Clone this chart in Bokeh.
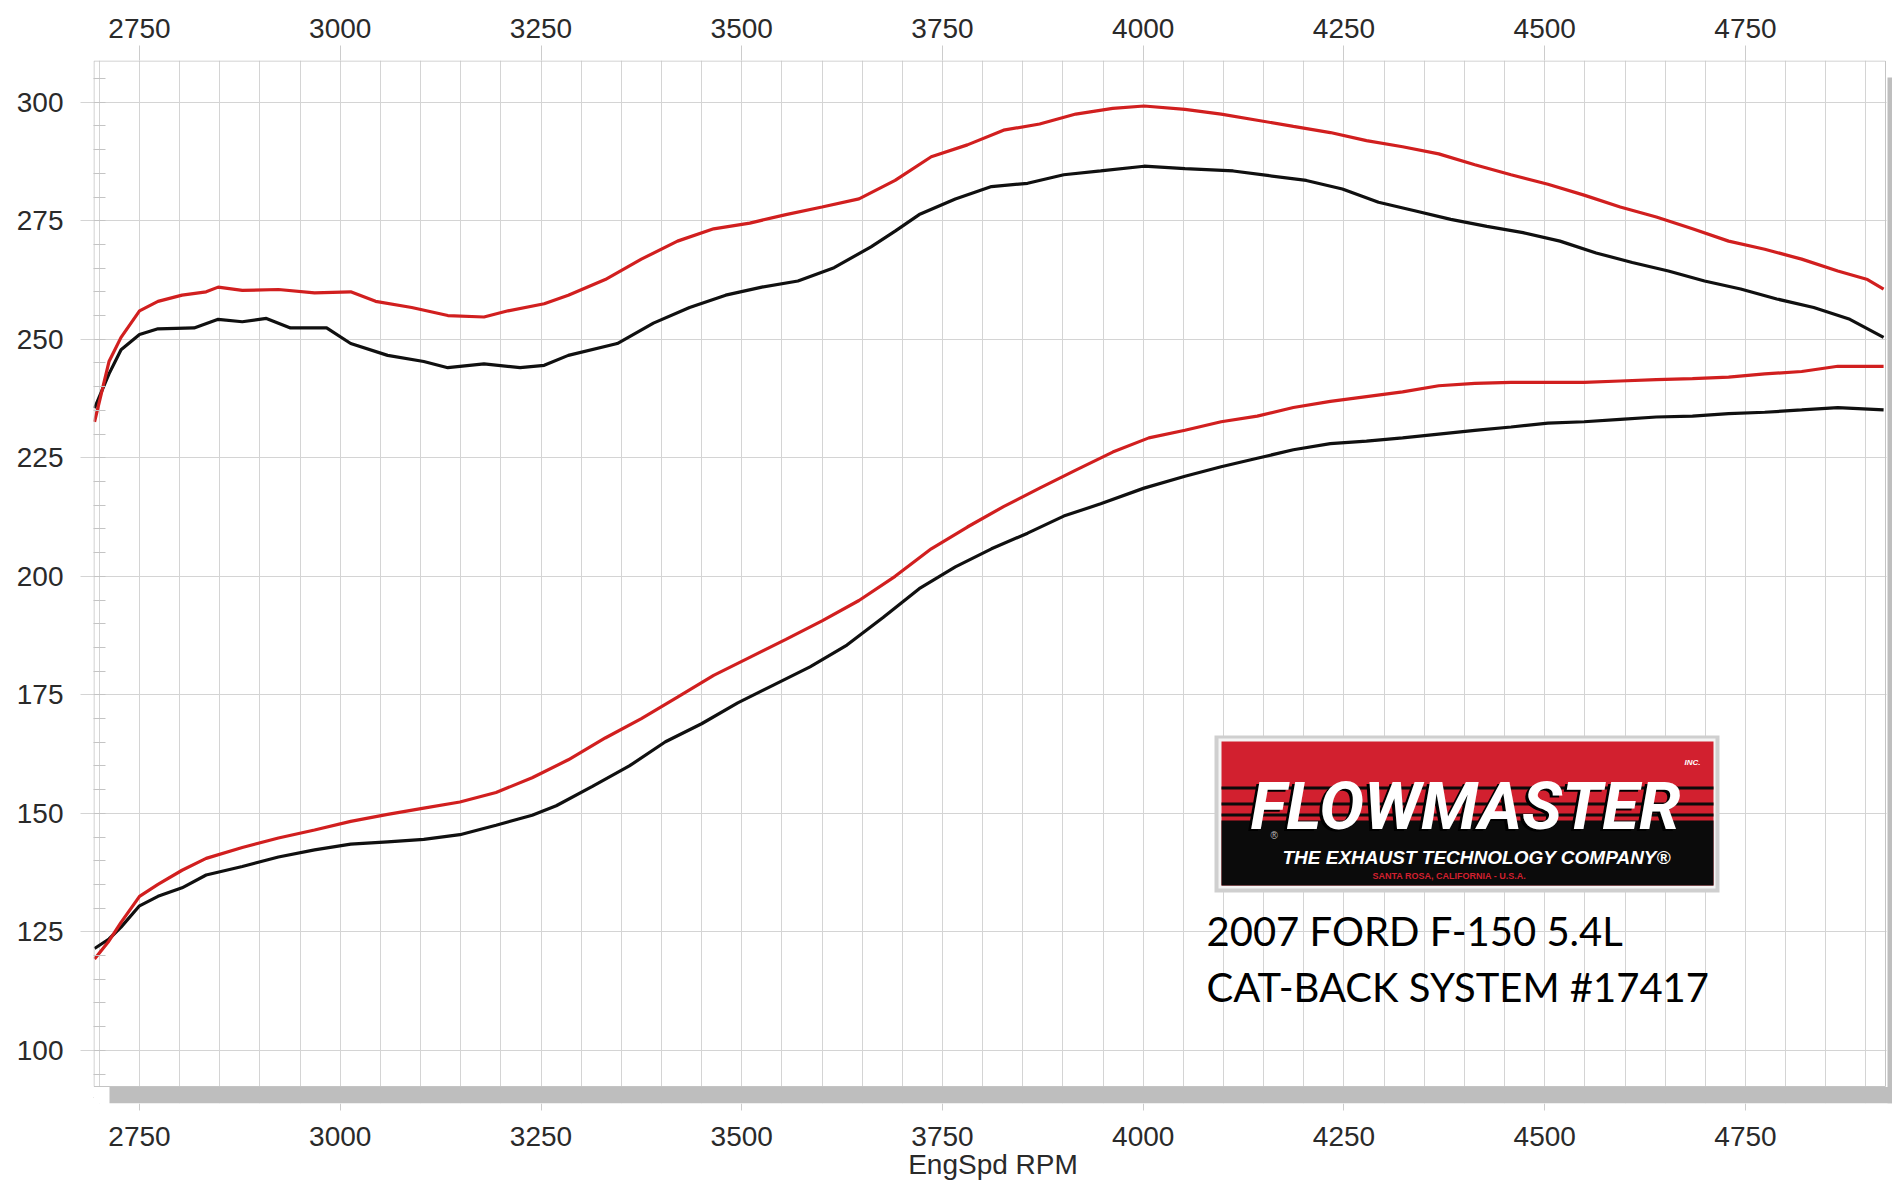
from bokeh.plotting import figure
from bokeh.models import Range1d, LinearAxis, SingleIntervalTicker, Label, BoxAnnotation
from bokeh.embed import file_html
from bokeh.resources import INLINE

# ---------------- data ----------------
red_tq_rpm = [2694, 2712, 2727, 2750, 2773, 2803, 2833, 2848, 2878, 2923,
              2968, 3013, 3044, 3089, 3134, 3179, 3209, 3254, 3284, 3330,
              3375, 3420, 3465, 3510, 3555, 3600, 3646, 3691, 3736, 3781,
              3826, 3871, 3916, 3962, 4001, 4052, 4097, 4142, 4187, 4233,
              4278, 4323, 4368, 4413, 4458, 4504, 4549, 4594, 4639, 4684,
              4729, 4774, 4820, 4865, 4902, 4922]
red_tq = [232.6, 245.3, 250.4, 256.0, 258.0, 259.3, 260.0, 261.0, 260.3, 260.5,
          259.8, 260.0, 258.0, 256.7, 255.0, 254.7, 256.0, 257.5, 259.3, 262.6,
          266.9, 270.7, 273.3, 274.5, 276.3, 277.9, 279.6, 283.5, 288.5, 291.0,
          294.1, 295.4, 297.5, 298.7, 299.2, 298.5, 297.5, 296.2, 294.9, 293.6,
          291.9, 290.6, 289.1, 286.8, 284.7, 282.7, 280.4, 277.9, 275.8, 273.3,
          270.7, 269.0, 266.9, 264.4, 262.6, 260.6]

blk_tq_rpm = [2694, 2712, 2727, 2750, 2773, 2818, 2848, 2878, 2908, 2938,
              2983, 3013, 3059, 3104, 3134, 3179, 3224, 3254, 3284, 3345,
              3390, 3435, 3480, 3525, 3570, 3615, 3661, 3691, 3721, 3766,
              3811, 3856, 3901, 3947, 4001, 4052, 4112, 4157, 4203, 4248,
              4293, 4338, 4383, 4428, 4473, 4519, 4564, 4609, 4654, 4699,
              4744, 4789, 4835, 4880, 4922]
blk_tq = [235.5, 242.7, 247.8, 251.0, 252.2, 252.4, 254.2, 253.7, 254.4, 252.4,
          252.4, 249.1, 246.6, 245.3, 244.0, 244.8, 244.0, 244.5, 246.6, 249.1,
          253.4, 256.7, 259.3, 261.0, 262.3, 265.1, 269.5, 272.8, 276.3, 279.6,
          282.2, 282.9, 284.7, 285.5, 286.5, 286.0, 285.5, 284.5, 283.5, 281.7,
          278.9, 277.1, 275.3, 273.8, 272.5, 270.7, 268.2, 266.2, 264.4, 262.3,
          260.6, 258.5, 256.7, 254.2, 250.4]

red_hp_rpm = [2694, 2712, 2727, 2750, 2773, 2803, 2833, 2878, 2923, 2968,
              3013, 3059, 3104, 3149, 3194, 3239, 3284, 3330, 3375, 3420,
              3465, 3510, 3555, 3600, 3646, 3691, 3736, 3781, 3826, 3871,
              3916, 3962, 4007, 4052, 4097, 4142, 4187, 4233, 4278, 4323,
              4368, 4413, 4458, 4504, 4549, 4594, 4639, 4684, 4729, 4774,
              4820, 4865, 4922]
red_hp = [119.3, 123.1, 127.0, 132.5, 135.0, 138.0, 140.5, 142.8, 144.8, 146.5,
          148.3, 149.8, 151.1, 152.4, 154.4, 157.5, 161.3, 165.9, 170.0, 174.5,
          179.1, 182.9, 186.7, 190.6, 194.9, 200.0, 205.8, 210.4, 214.7, 218.6,
          222.4, 226.2, 229.2, 230.8, 232.6, 233.8, 235.6, 236.9, 237.9, 238.9,
          240.2, 240.7, 240.9, 240.9, 240.9, 241.2, 241.5, 241.7, 242.0, 242.7,
          243.2, 244.3, 244.3]

blk_hp_rpm = [2694, 2712, 2727, 2750, 2773, 2803, 2833, 2878, 2923, 2968,
              3013, 3059, 3104, 3149, 3194, 3239, 3269, 3314, 3360, 3405,
              3450, 3495, 3540, 3585, 3631, 3676, 3721, 3766, 3811, 3856,
              3901, 3947, 4001, 4052, 4097, 4142, 4187, 4233, 4278, 4323,
              4368, 4413, 4458, 4504, 4549, 4594, 4639, 4684, 4729, 4774,
              4820, 4865, 4922]
blk_hp = [121.5, 123.5, 126.0, 130.5, 132.5, 134.3, 137.0, 138.8, 140.8, 142.3,
          143.5, 144.0, 144.5, 145.5, 147.5, 149.6, 151.6, 155.7, 160.0, 165.1,
          168.9, 173.3, 177.1, 180.9, 185.5, 191.3, 197.4, 202.0, 205.8, 209.1,
          212.7, 215.3, 218.6, 221.1, 223.1, 224.9, 226.7, 228.0, 228.5, 229.2,
          230.0, 230.8, 231.5, 232.3, 232.6, 233.1, 233.6, 233.8, 234.3, 234.6,
          235.1, 235.6, 235.1]

x_label = "EngSpd RPM"
title_lines = ["2007 FORD F-150 5.4L", "CAT-BACK SYSTEM #17417"]
logo_name = "FLOWMASTER"
logo_tag = "THE EXHAUST TECHNOLOGY COMPANY\u00ae"
logo_place = "SANTA ROSA, CALIFORNIA - U.S.A."

# ---------------- figure ----------------
AX_FONT = "Liberation Sans"
GRID = "#d4d4d4"
BORDER = "#c4c4c4"
SHADOW = "#bebebe"

p = figure(width=1892, height=1186,
           x_range=Range1d(2692.7, 4933.1), y_range=Range1d(88.8, 308.8),
           output_backend="svg", toolbar_location=None,
           min_border_left=93, min_border_right=0,
           min_border_top=60, min_border_bottom=83,
           background_fill_color="white", border_fill_color="white")
p.outline_line_color = None

top_axis = LinearAxis()
p.add_layout(top_axis, "above")

for ax in [p.below[0], top_axis]:
    ax.ticker = SingleIntervalTicker(interval=250, num_minor_ticks=5)
    ax.major_label_text_font = AX_FONT
    ax.major_label_text_font_size = "28px"
    ax.major_label_text_color = "#2a2a2a"
    ax.axis_line_color = None
    ax.major_tick_line_color = "#cccccc"
    ax.major_tick_in = 0
    ax.minor_tick_line_color = None

bx = p.below[0]
bx.major_tick_out = 7
bx.major_label_standoff = 16
bx.axis_label = x_label
bx.axis_label_text_font = AX_FONT
bx.axis_label_text_font_size = "28px"
bx.axis_label_text_font_style = "normal"
bx.axis_label_text_color = "#2a2a2a"
bx.axis_label_standoff = 0
top_axis.major_tick_out = 15
top_axis.major_label_standoff = 8

ya = p.left[0]
ya.ticker = SingleIntervalTicker(interval=25, num_minor_ticks=5)
ya.major_label_text_font = AX_FONT
ya.major_label_text_font_size = "28px"
ya.major_label_text_color = "#2a2a2a"
ya.axis_line_color = None
ya.major_tick_line_color = GRID
ya.major_tick_out = 13
ya.major_tick_in = 0
ya.minor_tick_line_color = BORDER
ya.minor_tick_in = 12
ya.minor_tick_out = 0
ya.major_label_standoff = 17

p.xgrid.ticker = SingleIntervalTicker(interval=50)
p.grid.grid_line_color = GRID
p.grid.grid_line_width = 1

# ---------------- curves ----------------
p.line(blk_tq_rpm, blk_tq, line_color="#101010", line_width=3.2)
p.line(red_tq_rpm, red_tq, line_color="#d11f1f", line_width=3.2)
p.line(blk_hp_rpm, blk_hp, line_color="#101010", line_width=3.2)
p.line(red_hp_rpm, red_hp, line_color="#d11f1f", line_width=3.2)

# ---------------- decoration (screen units relative to plot frame) ----------------
FL, FB = 93, 1103  # frame left / bottom in page pixels
def sx(v):
    return v - FL
def sy(v):
    return FB - v

def box(l, t, r, b, color, line=None):
    p.add_layout(BoxAnnotation(left=sx(l), right=sx(r), top=sy(t), bottom=sy(b),
                               left_units="screen", right_units="screen",
                               top_units="screen", bottom_units="screen",
                               fill_color=color, fill_alpha=0 if color is None else 1,
                               line_color=line, line_alpha=0 if line is None else 1,
                               line_width=1))

# panel frame with drop shadow (right and below)
box(1886, 59, 1893, 1104, "#ffffff")
box(93, 1086.5, 1893, 1104, "#ffffff")
box(1887, 77, 1893, 1103, SHADOW)
box(109, 1086.5, 1893, 1103, SHADOW)
box(93.5, 60.5, 1885, 1086, None, line=BORDER)

# logo
box(1214, 735, 1719, 892, "#cfcfcf")
box(1218, 738, 1715, 888, "#f4f4f4")
box(1221, 741, 1713, 885, "#d2202f")
box(1221, 820, 1713, 885, "#0b0b0b")
box(1221, 786, 1713, 789, "#0b0b0b")
box(1221, 802, 1713, 805, "#0b0b0b")
box(1221, 813, 1713, 816, "#0b0b0b")

def lab(text, x, baseline, size, color, font="Liberation Sans", style="normal", align="left"):
    # label placed by the vertical middle of its glyph box
    p.add_layout(Label(x=sx(x), y=sy(baseline - 0.35 * size), x_units="screen", y_units="screen",
                       text=text, text_font=font, text_font_size=f"{size}px", text_color=color,
                       text_font_style=style, text_align=align, text_baseline="middle"))

lab(logo_name, 1247, 831, 67, "#000000", font="Roboto", style="bold italic")
lab(logo_name, 1250, 829, 67, "#ffffff", font="Roboto", style="bold italic")
lab("\u00ae", 1270, 838, 10, "#bbbbbb")
lab("INC.", 1684, 765, 8, "#ffffff", style="bold italic")
lab(logo_tag, 1282, 864, 19, "#ffffff", style="bold italic")
lab(logo_place, 1372, 879, 9, "#d2202f", style="bold")

lab(title_lines[0], 1206, 944, 40, "#000000", font="Lato")
lab(title_lines[1], 1206, 1000, 40, "#000000", font="Lato")

open("out.html", "w").write(file_html(p, INLINE))
